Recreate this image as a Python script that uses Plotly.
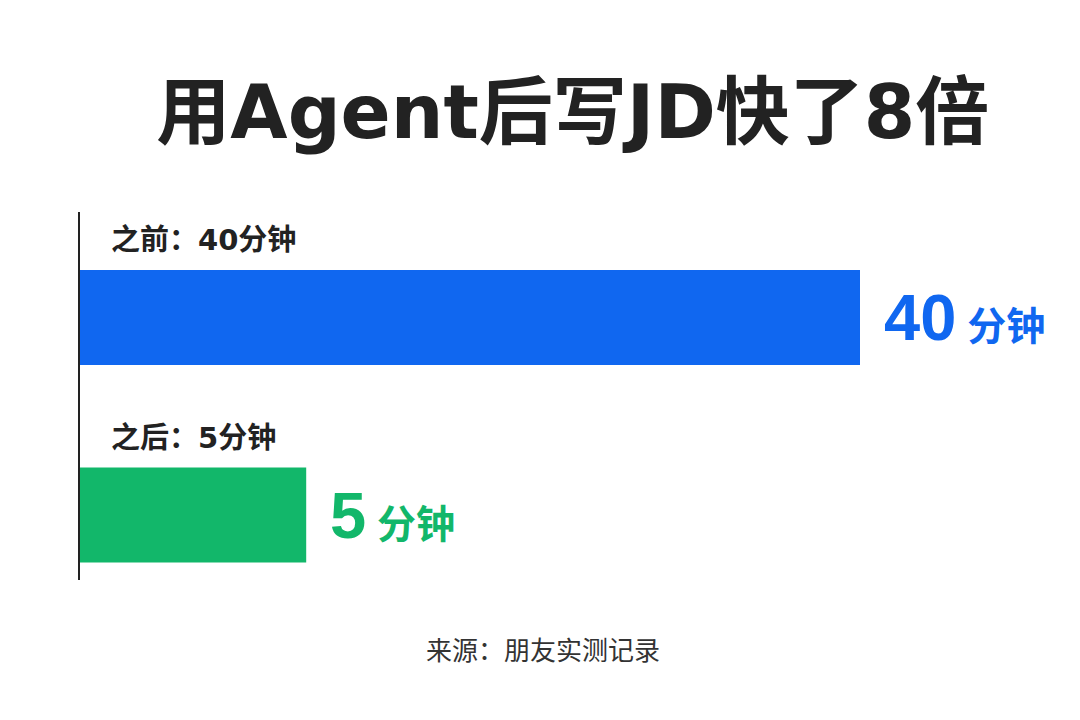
import plotly.graph_objects as go

# data
phases = ["之前", "之后"]
minutes = [40, 5]
# the reference does not draw its bars to scale; these are the drawn lengths
bar_len = [40, 11.6]
colors = ["#1067F0", "#12B76A"]

title = "用Agent后写JD快了8倍"
source = "来源：朋友实测记录"

FONT = "Liberation Sans, Noto Sans CJK SC, sans-serif"
TITLE_FONT = "DejaVu Sans, Noto Sans CJK SC, sans-serif"
ypos = list(range(len(phases)))

fig = go.Figure(go.Bar(
    x=bar_len, y=ypos, orientation="h", width=0.48,
    marker=dict(color=colors, line_width=0),
    hoverinfo="skip",
))

ann = []
for i, (p, m, c) in enumerate(zip(phases, minutes, colors)):
    # label above the bar
    ann.append(dict(
        x=0, y=i - 0.39, xref="x", yref="y", xanchor="left", yanchor="middle",
        xshift=29, showarrow=False,
        text=f"<b>{p}：{m}分钟</b>",
        font=dict(family=TITLE_FONT, size=29, color="#222222"),
    ))
    # big value to the right of the bar
    ann.append(dict(
        x=bar_len[i], y=i, xref="x", yref="y", xanchor="left", yanchor="middle",
        xshift=22, showarrow=False,
        text=f"<b>{m}</b><b><span style='font-size:39px'> 分钟</span></b>",
        font=dict(family=FONT, size=65, color=c),
    ))

ann.append(dict(
    x=0.594, y=-0.193, xref="paper", yref="paper", xanchor="center", yanchor="middle",
    showarrow=False, text=source,
    font=dict(family=FONT, size=26, color="#333333"),
))

fig.update_layout(
    width=1080, height=720,
    margin=dict(l=72, r=228, t=204, b=148),
    paper_bgcolor="white", plot_bgcolor="white",
    showlegend=False,
    title=dict(
        text=f"<b>{title}</b>", x=0.523, y=0.856, xref="container", yref="container",
        xanchor="center", yanchor="middle",
        font=dict(family=TITLE_FONT, size=74, color="#222222"),
    ),
    annotations=ann,
)
fig.update_xaxes(range=[0, 40], visible=False, showgrid=False, zeroline=False)
fig.update_yaxes(range=[1.329, -0.534], showgrid=False, zeroline=False,
                 showticklabels=False, ticks="",
                 showline=True, linecolor="#222222", linewidth=2)

fig.write_html("out.html")
